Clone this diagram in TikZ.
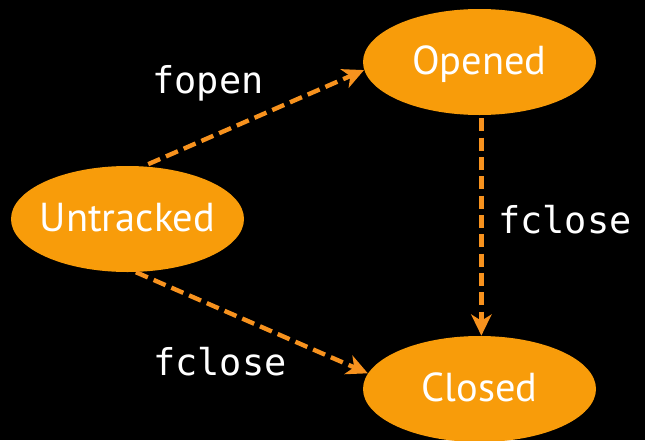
\documentclass[tikz,border=0pt]{standalone}
\usepackage{fontspec}
\setmonofont{DejaVu Sans Mono}
\newfontfamily\statefont{PT Sans}
\usetikzlibrary{arrows.meta, positioning, shapes.geometric}

\definecolor{stateorange}{RGB}{248,156,10}
\definecolor{arroworange}{RGB}{247,146,30}

\begin{document}
\begin{tikzpicture}[
    state/.style={ellipse, fill=stateorange, inner sep=0pt, minimum width=4.66cm, minimum height=2.12cm},
    statetext/.style={text=white, font=\statefont\fontsize{23}{27}\selectfont, text height=0.58cm, text depth=0.1cm, inner sep=0pt},
    trans/.style={arroworange, line width=2.5pt, dash pattern=on 7.4pt off 3.6pt, -{Stealth[length=12pt, width=11.5pt, inset=3.5pt]}},
    translabel/.style={text=white, font=\ttfamily\fontsize{21}{25}\selectfont, anchor=base}
]

% Background
\fill[black] (0, 0) rectangle (12.9, -8.8);
\useasboundingbox (0, 0) rectangle (12.9, -8.8);

% ============ STATES ============
\node[state, label={[statetext]center:Untracked}] (untracked) at (2.55, -4.38) {};
\node[state, label={[statetext]center:Opened}] (opened) at (9.59, -1.24) {};
\node[state, label={[statetext]center:Closed}] (closed) at (9.59, -7.78) {};

% ============ TRANSITIONS ============
\draw[trans, shorten <=0.1cm] (untracked.73) -- (opened.184);
\draw[trans, shorten <=0.06cm] (opened.-88) -- (closed.88);
\draw[trans] (untracked.-81) -- (closed.172);

% Labels
\node[translabel] (lopen) at (4.16, -1.86) {fopen};
\node[translabel] (lclose1) at (11.3, -4.66) {fclose};
\node[translabel] (lclose2) at (4.40, -7.5) {fclose};

\end{tikzpicture}
\end{document}
